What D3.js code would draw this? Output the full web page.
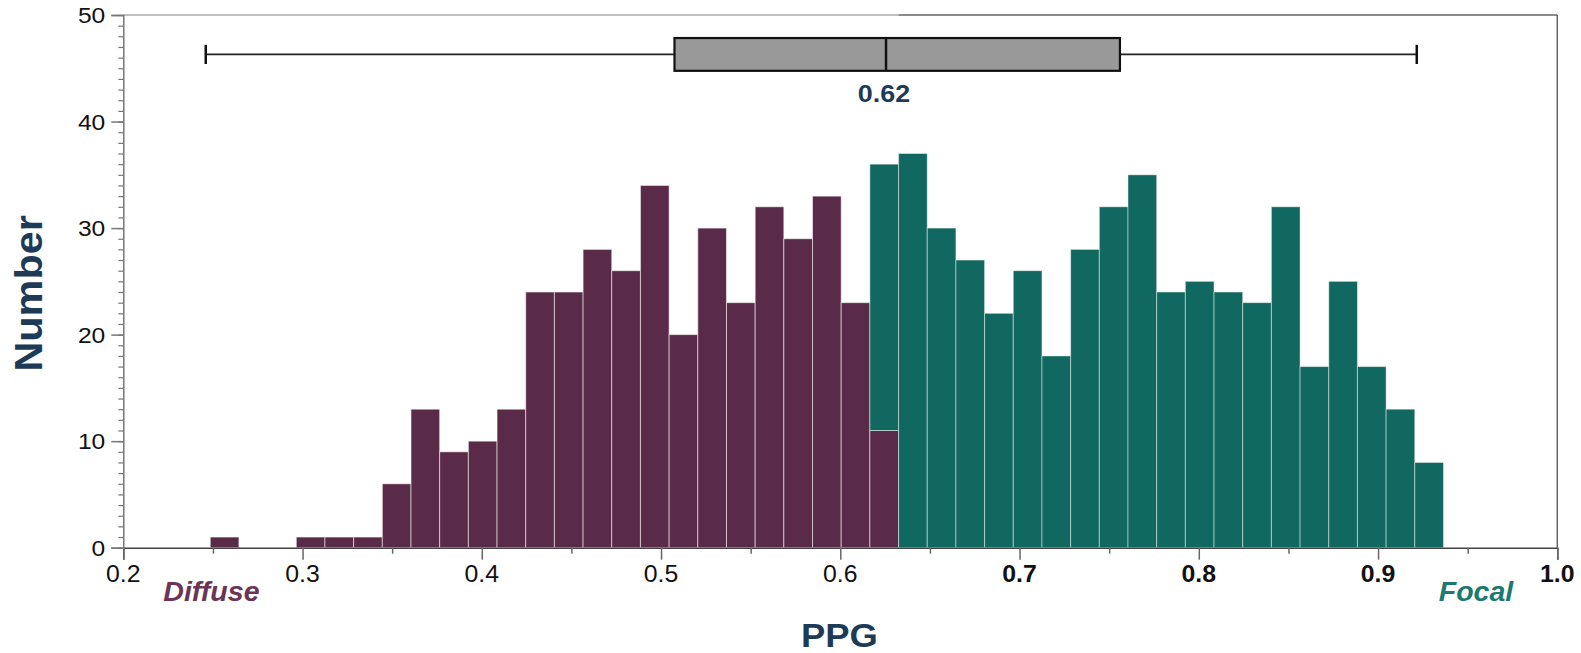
<!DOCTYPE html>
<html>
<head>
<meta charset="utf-8">
<script src="https://cdn.jsdelivr.net/npm/d3@7"></script>
<style>
  html, body { margin: 0; padding: 0; background: #fff; }
  svg { display: block; }
</style>
</head>
<body>
<svg id="chart"></svg>
<script>
// histogram bins (PPG), width 0.016 starting at 0.2485
const binStart = 0.2485;
const binWidth = 0.016;
const diffuseCounts = [1, 0, 0, 1, 1, 1, 6, 13, 9, 10, 13, 24, 24, 28, 26, 34, 20, 30, 23, 32, 29, 33, 23, 11];
const focalStartBin = 23;
const focalCounts = [25, 37, 30, 27, 22, 26, 18, 28, 32, 35, 24, 25, 24, 23, 32, 17, 25, 17, 13, 8];

// box plot summary
const boxStats = [0.246, 0.5075, 0.6255, 0.756, 0.9216]; // lo, q1, median, q3, hi
const medianLabel = "0.62";
const boxLevel = 46.3;

const xTicks = [0.2, 0.3, 0.4, 0.5, 0.6, 0.7, 0.8, 0.9, 1.0];
const xMinorTicks = [0.25, 0.35, 0.45, 0.55, 0.65, 0.75, 0.85, 0.95];
const boldFrom = 0.7;
const yTicks = [0, 10, 20, 30, 40, 50];
const yMinorTicks = d3.range(0, 51);

const W = 1581, H = 653;
const plotL = 123.3, plotR = 1557.3, plotT = 15, plotB = 547.7;

const purple = "#5a2b48", teal = "#116861", navy = "#1d3b56";
const font = "'Liberation Sans', Arial, Helvetica, sans-serif";

const x = d3.scaleLinear().domain([0.2, 1.0]).range([plotL, plotR]);
const y = d3.scaleLinear().domain([0, 50]).range([plotB, plotT]);

const svg = d3.select("#chart").attr("width", W).attr("height", H);

// stretched text helper (source font is wider than Arial)
function label(g, txt, px, py, opts) {
  const o = Object.assign({ size: 22, weight: "normal", style: "normal", anchor: "middle", fill: "#111", sx: 1.1, rot: 0 }, opts);
  return g.append("text")
    .attr("transform", `translate(${px},${py}) rotate(${o.rot}) scale(${o.sx},1)`)
    .attr("font-family", font)
    .attr("font-size", o.size)
    .attr("font-weight", o.weight)
    .attr("font-style", o.style)
    .attr("text-anchor", o.anchor)
    .attr("fill", o.fill)
    .text(txt);
}

// bars
const diffuseBins = diffuseCounts.map((c, i) => ({ x0: binStart + i * binWidth, y0: 0, y1: c }));
const focalBins = focalCounts.map((c, i) => {
  const idx = focalStartBin + i;
  const base = idx < diffuseCounts.length ? diffuseCounts[idx] : 0;
  return { x0: binStart + idx * binWidth, y0: base, y1: base + c };
});

svg.append("g")
  .selectAll("rect")
  .data(diffuseBins.filter(d => d.y1 > 0))
  .join("rect")
    .attr("x", d => x(d.x0))
    .attr("width", d => x(d.x0 + binWidth) - x(d.x0))
    .attr("y", d => y(d.y1))
    .attr("height", d => y(d.y0) - y(d.y1))
    .attr("fill", purple)
    .attr("stroke", "rgba(255,255,255,0.55)")
    .attr("stroke-width", 1);

svg.append("g")
  .selectAll("rect")
  .data(focalBins)
  .join("rect")
    .attr("x", d => x(d.x0))
    .attr("width", d => x(d.x0 + binWidth) - x(d.x0))
    .attr("y", d => y(d.y1))
    .attr("height", d => y(d.y0) - y(d.y1))
    .attr("fill", teal)
    .attr("stroke", "rgba(255,255,255,0.45)")
    .attr("stroke-width", 1);

// frame: top + right
const splitX = binStart + (focalStartBin + 1) * binWidth;
svg.append("line").attr("x1", plotL).attr("x2", x(splitX)).attr("y1", plotT).attr("y2", plotT)
  .attr("stroke", "#aaa").attr("stroke-width", 1.5);
svg.append("line").attr("x1", x(splitX)).attr("x2", plotR).attr("y1", plotT).attr("y2", plotT)
  .attr("stroke", "#666").attr("stroke-width", 1.5);
svg.append("line").attr("x1", plotR).attr("x2", plotR).attr("y1", plotT).attr("y2", plotB)
  .attr("stroke", "#666").attr("stroke-width", 1.5);

// x axis
svg.append("g").attr("transform", `translate(0,${plotB})`)
  .call(d3.axisBottom(x).tickValues(xTicks).tickSize(12).tickFormat(""))
  .call(g => g.select(".domain").attr("stroke", "#444").attr("stroke-width", 1.5))
  .call(g => g.selectAll(".tick line").attr("stroke", "#666").attr("stroke-width", 1.5));
svg.append("g").attr("transform", `translate(0,${plotB})`)
  .call(d3.axisBottom(x).tickValues(xMinorTicks).tickSize(6).tickFormat(""))
  .call(g => g.select(".domain").remove())
  .call(g => g.selectAll(".tick line").attr("stroke", "#666").attr("stroke-width", 1.5));

xTicks.forEach(t => {
  label(svg, t.toFixed(1), x(t), plotB + 34.5,
    { size: 23, weight: t >= boldFrom - 1e-9 ? "bold" : "normal", sx: 1.08 });
});

// y axis
svg.append("g").attr("transform", `translate(${plotL},0)`)
  .call(d3.axisLeft(y).tickValues(yMinorTicks).tickSize(5).tickFormat(""))
  .call(g => g.select(".domain").remove())
  .call(g => g.selectAll(".tick line").attr("stroke", "#777").attr("stroke-width", 1.2));
svg.append("g").attr("transform", `translate(${plotL},0)`)
  .call(d3.axisLeft(y).tickValues(yTicks).tickSize(12).tickFormat(""))
  .call(g => g.select(".domain").attr("stroke", "#777").attr("stroke-width", 1.5))
  .call(g => g.selectAll(".tick line").attr("stroke", "#777").attr("stroke-width", 1.5));

yTicks.forEach(t => {
  label(svg, String(t), plotL - 18, y(t) + 8, { size: 22, anchor: "end", sx: 1.12 });
});

// box plot
const by = y(boxLevel);
const box = svg.append("g");
box.append("line").attr("x1", x(boxStats[0])).attr("x2", x(boxStats[1])).attr("y1", by).attr("y2", by)
  .attr("stroke", "#222").attr("stroke-width", 1.6);
box.append("line").attr("x1", x(boxStats[3])).attr("x2", x(boxStats[4])).attr("y1", by).attr("y2", by)
  .attr("stroke", "#222").attr("stroke-width", 1.6);
[boxStats[0], boxStats[4]].forEach(v => {
  box.append("line").attr("x1", x(v)).attr("x2", x(v)).attr("y1", by - 9.6).attr("y2", by + 9.6)
    .attr("stroke", "#111").attr("stroke-width", 2.5);
});
box.append("rect")
  .attr("x", x(boxStats[1])).attr("width", x(boxStats[3]) - x(boxStats[1]))
  .attr("y", by - 16.4).attr("height", 32.8)
  .attr("fill", "#999").attr("stroke", "#111").attr("stroke-width", 2.2);
box.append("line").attr("x1", x(boxStats[2])).attr("x2", x(boxStats[2])).attr("y1", by - 16.4).attr("y2", by + 16.4)
  .attr("stroke", "#111").attr("stroke-width", 2.5);
label(svg, medianLabel, x(boxStats[2]) - 2, by + 48, { size: 24, weight: "bold", fill: navy, sx: 1.12 });

// axis titles and side labels
label(svg, "Number", 42, (plotT + plotB) / 2 + 12, { size: 38, weight: "bold", fill: navy, sx: 1.09, rot: -90 });
label(svg, "PPG", (plotL + plotR) / 2 - 1, 647, { size: 34, weight: "bold", fill: navy, sx: 1.07 });
label(svg, "Diffuse", plotL + 40, 601, { size: 28, weight: "bold", style: "italic", fill: "#6b3557", anchor: "start", sx: 1.02 });
label(svg, "Focal", plotR - 44, 601, { size: 28, weight: "bold", style: "italic", fill: "#1b7a70", anchor: "end", sx: 1.02 });
</script>
</body>
</html>
